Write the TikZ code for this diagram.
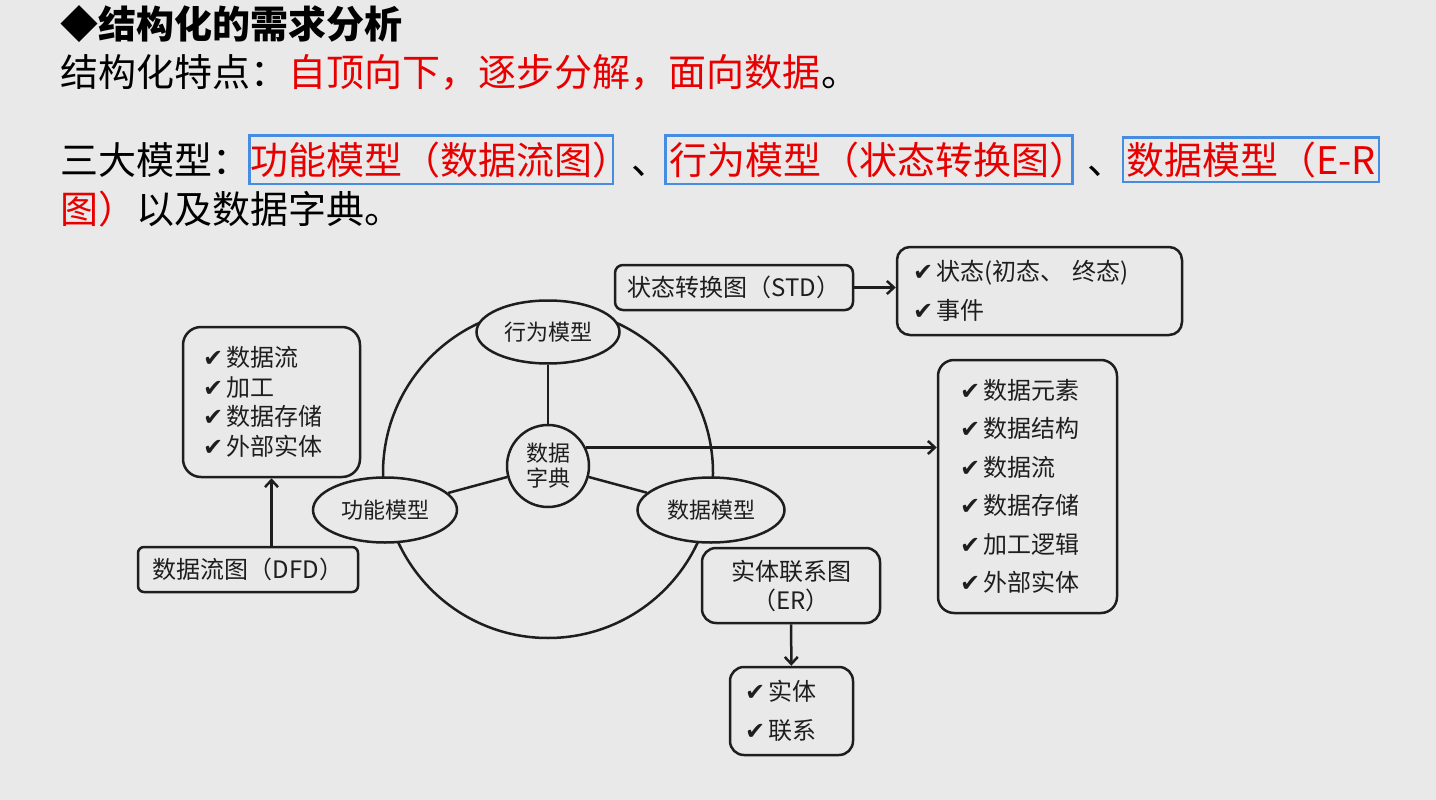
\documentclass[tikz,border=0pt]{standalone}
\usepackage{fontspec}
\setmainfont{Noto Sans CJK SC}
\newfontfamily\dejavu{DejaVu Sans}
\usepackage{xcolor}
\usepackage{tikz}
\usetikzlibrary{arrows.meta,positioning,shapes.geometric}
\definecolor{bgcol}{RGB}{233,233,233}
\definecolor{hred}{RGB}{232,0,0}
\definecolor{hblue}{RGB}{70,140,224}
\definecolor{ink}{RGB}{30,30,30}
\newcommand\chk{{\dejavu\fontsize{24}{24}\selectfont ✔}\hspace{3pt}}
\tikzset{
  hdr/.style={anchor=base west, inner sep=0pt, font=\fontsize{38}{46}\selectfont},
  hbox/.style={draw=hblue, line width=2.6pt},
  mbox/.style={draw=ink, line width=2.5pt, rounded corners=7pt, text=ink, align=center, inner sep=0pt, font=\fontsize{24}{29}\selectfont},
  mlist/.style={draw=ink, line width=2.5pt, rounded corners=15pt, text=ink, align=left, inner ysep=0pt},
  moval/.style={ellipse, draw=ink, line width=2.5pt, fill=bgcol, text=ink, inner sep=0pt, font=\fontsize{22}{25}\selectfont},
  marr/.style={-{Straight Barb[length=7pt,width=13pt]}, draw=ink, line width=2.5pt}
}

\begin{document}
\begin{tikzpicture}[x=1pt, y=-1pt]
\fill[bgcol] (0,0) rectangle (1436,800);
\useasboundingbox (0,0) rectangle (1436,800);
% heading lines
\node[hdr] (t1) at (60,39) {\bfseries ◆结构化的需求分析};
\node[hdr] (f0) at (60,86) {结构化特点：};
\node[hdr, text=hred] (f1) at (f0.base east) {自顶向下，逐步分解，面向数据};
\node[hdr] (f2) at (f1.base east) {。};
\node[hdr] (m0) at (60,174) {三大模型：};
\node[hdr, text=hred] (m1) at (m0.base east) {功能模型（数据流图）};
\node[hdr] (m2) at (m1.base east) {、};
\node[hdr, text=hred] (m3) at (m2.base east) {行为模型（状态转换图）};
\node[hdr] (m4) at (m3.base east) {、};
\node[hdr, text=hred] (m5) at (m4.base east) {数据模型（E-R};
\node[hdr, text=hred] (n0) at (60,223) {图）};
\node[hdr] (n1) at (n0.base east) {以及数据字典。};
\draw[hbox] ([xshift=-1pt,yshift=6pt]m1.north west) rectangle ([xshift=-18pt,yshift=-6pt]m1.south east);
\draw[hbox] ([xshift=-4pt,yshift=6pt]m3.north west) rectangle ([xshift=-15pt,yshift=-6pt]m3.south east);
\draw[hbox] ([xshift=-3pt,yshift=4pt]m5.north west) rectangle ([xshift=3pt,yshift=-4pt]m5.south east);

% three models round the dictionary
\node[circle, draw=ink, line width=2.5pt, minimum size=330pt, inner sep=0pt] (ring) at (548,473) {};
\node[moval, minimum width=143pt, minimum height=63pt] (bm) at (548,332) {行为模型};
\node[moval, minimum width=144pt, minimum height=65pt] (fm) at (385,510) {功能模型};
\node[moval, minimum width=147pt, minimum height=65pt] (dm) at (711,510) {数据模型};
\node[circle, draw=ink, line width=2.5pt, fill=bgcol, text=ink, minimum size=82pt, inner sep=0pt, align=center, font=\fontsize{22}{25}\selectfont] (dd) at (548,466) {数据\\字典};
\draw[draw=ink, line width=2.5pt] (bm)--(dd);
\draw[draw=ink, line width=2.5pt] (dd)--(fm);
\draw[draw=ink, line width=2.5pt] (dd)--(dm);

% functional model
\node[mlist, rounded corners=18pt, minimum width=177pt, minimum height=150pt, inner xsep=20pt, text width=137pt, font=\fontsize{24}{29.5}\selectfont] (dfdlist) at (271.5,402) {\chk{}数据流\\\chk{}加工\\\chk{}数据存储\\\chk{}外部实体};
\node[mbox, rounded corners=6pt, minimum width=220pt, minimum height=45pt] (dfd) at (248,569.5) {数据流图（DFD）};
\draw[marr] (dfdlist.south |- dfd.north)--(dfdlist.south);

% behaviour model
\node[mlist, rounded corners=13pt, minimum width=285pt, minimum height=88pt, inner xsep=16pt, text width=253pt, font=\fontsize{24}{39}\selectfont] (stlist) at (1039.5,291) {\chk{}状态(初态、 终态)\\\chk{}事件};
\node[mbox, rounded corners=8pt, minimum width=238pt, minimum height=45pt] (std) at (734,287.5) {状态转换图（STD）};
\draw[marr] (std.east)--(std.east -| stlist.west);

% data dictionary
\node[mlist, rounded corners=16pt, minimum width=179pt, minimum height=253pt, inner xsep=22pt, text width=135pt, font=\fontsize{24}{38.5}\selectfont] (ddlist) at (1027.5,486.5) {\chk{}数据元素\\\chk{}数据结构\\\chk{}数据流\\\chk{}数据存储\\\chk{}加工逻辑\\\chk{}外部实体};
\draw[marr] (dd.26)--(dd.26 -| ddlist.west);

% data model
\node[mbox, rounded corners=14pt, minimum width=178pt, minimum height=75pt] (er) at (791,585.5) {实体联系图\\（ER）};
\node[mlist, rounded corners=14pt, minimum width=123pt, minimum height=88pt, inner xsep=15pt, text width=93pt, font=\fontsize{24}{39}\selectfont] (erlist) at (791.5,711) {\chk{}实体\\\chk{}联系};
\draw[marr] (er)--(erlist);
\end{tikzpicture}
\end{document}
